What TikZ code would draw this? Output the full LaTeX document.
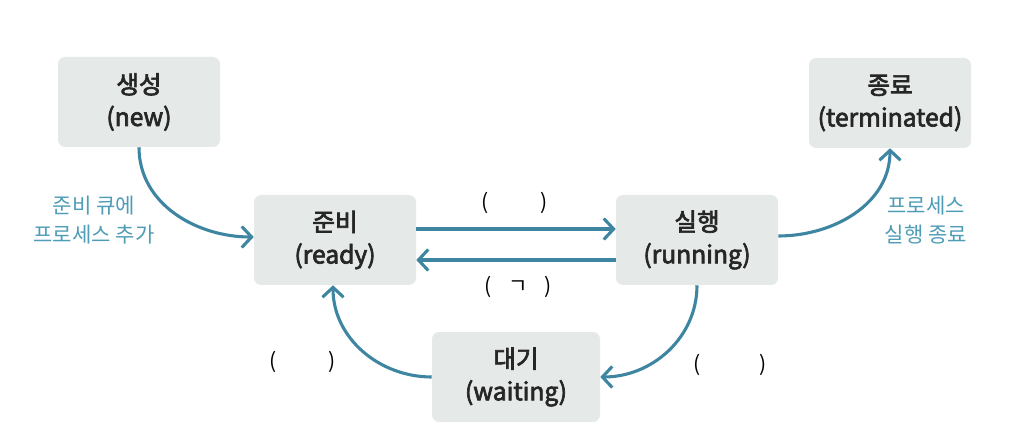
\documentclass[tikz,border=0pt]{standalone}
\usepackage{fontspec}
\setmainfont{Noto Sans CJK KR}
\newfontfamily\medfont{Noto Sans CJK KR}[FakeBold=2.8]
\usetikzlibrary{arrows.meta}

\definecolor{boxfill}{HTML}{E5E9E8}
\definecolor{arrowblue}{HTML}{3D85A1}
\definecolor{labelblue}{HTML}{4E9CB6}

\tikzset{
    state/.style={fill=boxfill, rounded corners=5pt, minimum width=4.05cm,
        minimum height=2.25cm, align=center, text=black!85,
        font=\fontsize{17.5}{23}\medfont},
    trans/.style={draw=arrowblue, line width=2.2pt,
        -{Straight Barb[length=7pt,width=15pt]}},
    note/.style={text=labelblue, align=center, font=\fontsize{15}{21}\selectfont},
    blank/.style={font=\fontsize{15}{20}\selectfont}
}

\begin{document}
\begin{tikzpicture}
        \useasboundingbox (0, 0) rectangle (25.4, -11.15);
        % 상태
        \node[state] (new) at (3.475, -2.55) {생성\\(new)};
        \node[state] (ready) at (8.375, -6.0) {준비\\(ready)};
        \node[state] (running) at (17.425, -6.0) {실행\\(running)};
        \node[state] (terminated) at (22.25, -2.575) {종료\\(terminated)};
        \node[state, minimum width=4.2cm] (waiting) at (12.9, -9.425) {대기\\(waiting)};
        % 설명
        \node[note] (addq) at (2.35, -5.5) {준비 큐에\\프로세스 추가};
        \node[note] (endp) at (23.15, -5.5) {프로세스\\실행 종료};
        % 빈칸
        \node[blank] (dispatch) at (12.875, -5.075) {(\hspace{1.3cm})};
        \node[blank] (interrupt) at (12.95, -7.175) {(\hspace{0.42cm}ㄱ\hspace{0.42cm})};
        \node[blank] (wakeup) at (7.575, -9.05) {(\hspace{1.3cm})};
        \node[blank] (iowait) at (18.25, -9.125) {(\hspace{1.45cm})};
        % 전이
        \draw[trans] (new.south) to[out=-90, in=180] ([yshift=0.075cm]ready.west);
        \draw[trans] ([yshift=0.275cm]ready.east) -- ([yshift=0.275cm]running.west);
        \draw[trans] ([yshift=-0.5cm]running.west) -- ([yshift=-0.5cm]ready.east);
        \draw[trans] ([yshift=0.1cm]running.east) to[out=0, in=-90] (terminated.south);
        \draw[trans] (running.south) to[out=-90, in=0] (waiting.east);
        \draw[trans] (waiting.west) to[out=180, in=-90] ([xshift=-0.05cm]ready.south);
    \end{tikzpicture}
\end{document}
